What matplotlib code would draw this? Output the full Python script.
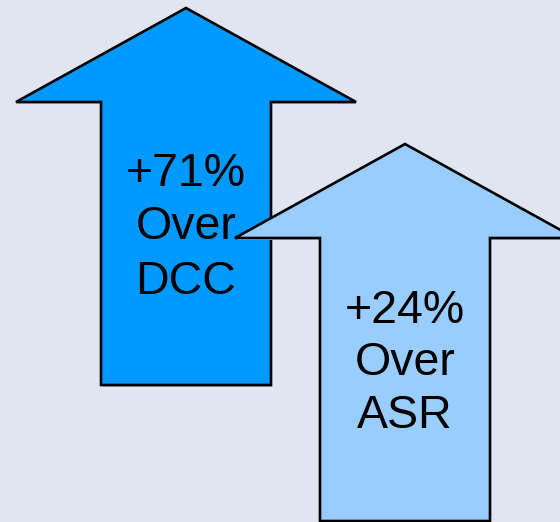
import matplotlib
matplotlib.use("Agg")
import matplotlib.pyplot as plt
from matplotlib.patches import Polygon

labels = ["+71%", "+24%"]
baselines = ["DCC", "ASR"]
fill_colors = ["#0099ff", "#99ccff"]

# arrow geometry in pixel units (center x, tip y, head base y, bottom y)
centers = [186, 405]
tips = [8, 144]
head_bases = [102, 238]
bottoms = [385, 521]
head_half = 170
shaft_half = 85

W, H = 560, 522
fig = plt.figure(figsize=(W / 100, H / 100), dpi=100)
fig.patch.set_facecolor("#e0e6f1")
ax = fig.add_axes([0, 0, 1, 1])
ax.set_xlim(0, W)
ax.set_ylim(H, 0)
ax.axis("off")

for i in range(2):
    cx, ty, hb, by = centers[i], tips[i], head_bases[i], bottoms[i]
    pts = [
        (cx, ty),
        (cx + head_half, hb),
        (cx + shaft_half, hb),
        (cx + shaft_half, by),
        (cx - shaft_half, by),
        (cx - shaft_half, hb),
        (cx - head_half, hb),
    ]
    shadow = Polygon([(x + 1, y + 2) for x, y in pts], closed=True,
                     facecolor="#b8bcc4", edgecolor="none", zorder=2 * i + 1)
    ax.add_patch(shadow)
    poly = Polygon(pts, closed=True, facecolor=fill_colors[i],
                   edgecolor="black", linewidth=1.9, joinstyle="miter",
                   zorder=2 * i + 2)
    ax.add_patch(poly)

font = ["Liberation Sans", "DejaVu Sans"]
text_lines = [
    [(labels[0], 186), ("Over", 239), (baselines[0], 294)],
    [(labels[1], 323), ("Over", 375), (baselines[1], 428)],
]
text_x = [186, 405]
for i in range(2):
    for s, yb in text_lines[i]:
        ax.text(text_x[i], yb, s, ha="center", va="baseline",
                fontsize=33.5, family=font, color="black", zorder=10)

fig.savefig("out.png", dpi=100, facecolor=fig.get_facecolor())
